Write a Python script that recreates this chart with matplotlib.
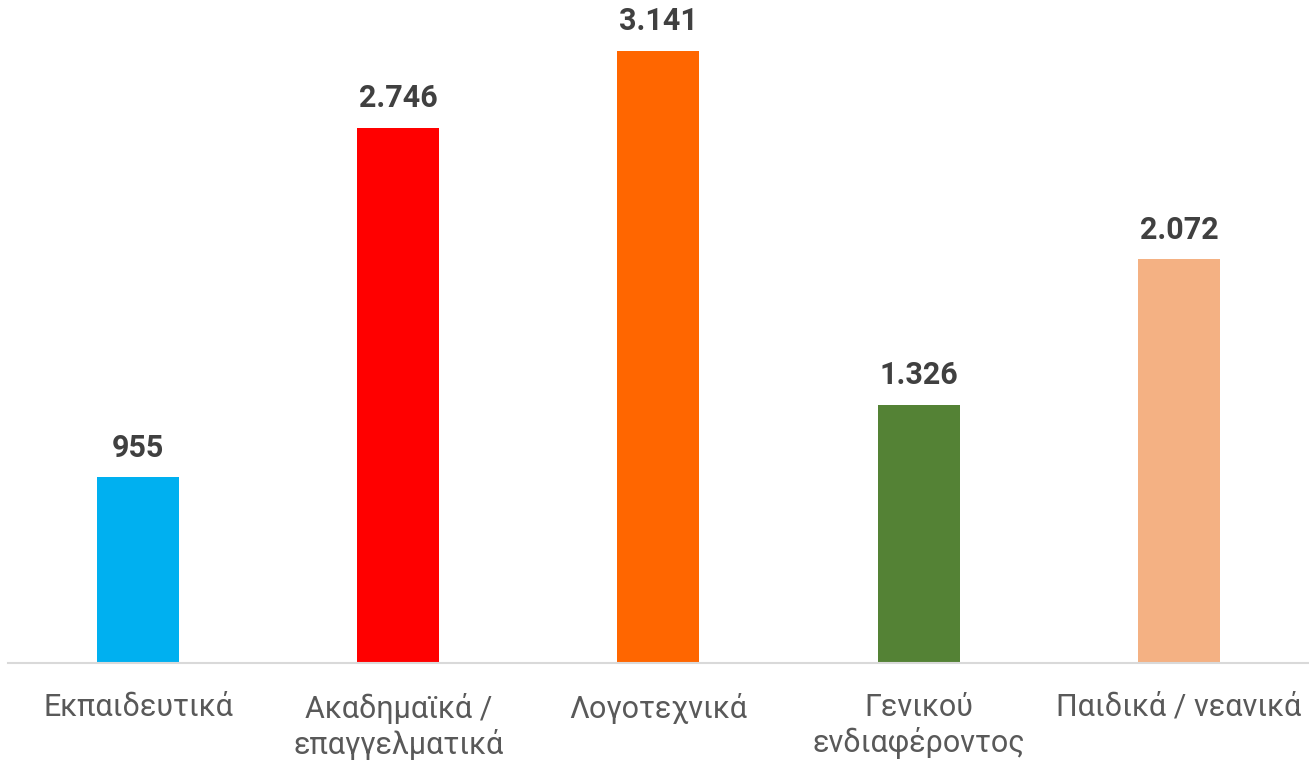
import matplotlib
matplotlib.use("Agg")
import matplotlib.pyplot as plt

plt.rcParams['font.family'] = ['Roboto', 'DejaVu Sans']

categories = ['Εκπαιδευτικά', 'Ακαδημαϊκά /\nεπαγγελματικά', 'Λογοτεχνικά',
              'Γενικού\nενδιαφέροντος', 'Παιδικά / νεανικά']
values = [955, 2746, 3141, 1326, 2072]
labels = ['955', '2.746', '3.141', '1.326', '2.072']
colors = ['#00b0f0', '#ff0000', '#ff6600', '#548235', '#f4b183']

fig = plt.figure(figsize=(13.09, 7.66), dpi=100)
ax = fig.add_axes([0.006, 0.134, 0.994, 0.866])

x = range(len(categories))
bars = ax.bar(x, values, width=0.315, color=colors)

for b, lab in zip(bars, labels):
    ax.text(b.get_x() + b.get_width() / 2, b.get_height() + 75, lab,
            ha='center', va='bottom', fontsize=22, fontweight='bold', color='#404040')

ax.set_xlim(-0.5, 4.5)
ax.set_ylim(0, 3403)
ax.set_xticks(list(x))
ax.set_xticklabels(categories, fontsize=22, color='#595959', linespacing=1.2)
ax.tick_params(axis='x', length=0, pad=21)
ax.set_yticks([])
for s in ['top', 'right', 'left']:
    ax.spines[s].set_visible(False)
ax.spines['bottom'].set_color('#d9d9d9')
ax.spines['bottom'].set_linewidth(1.5)

fig.savefig('out.png', dpi=100)
